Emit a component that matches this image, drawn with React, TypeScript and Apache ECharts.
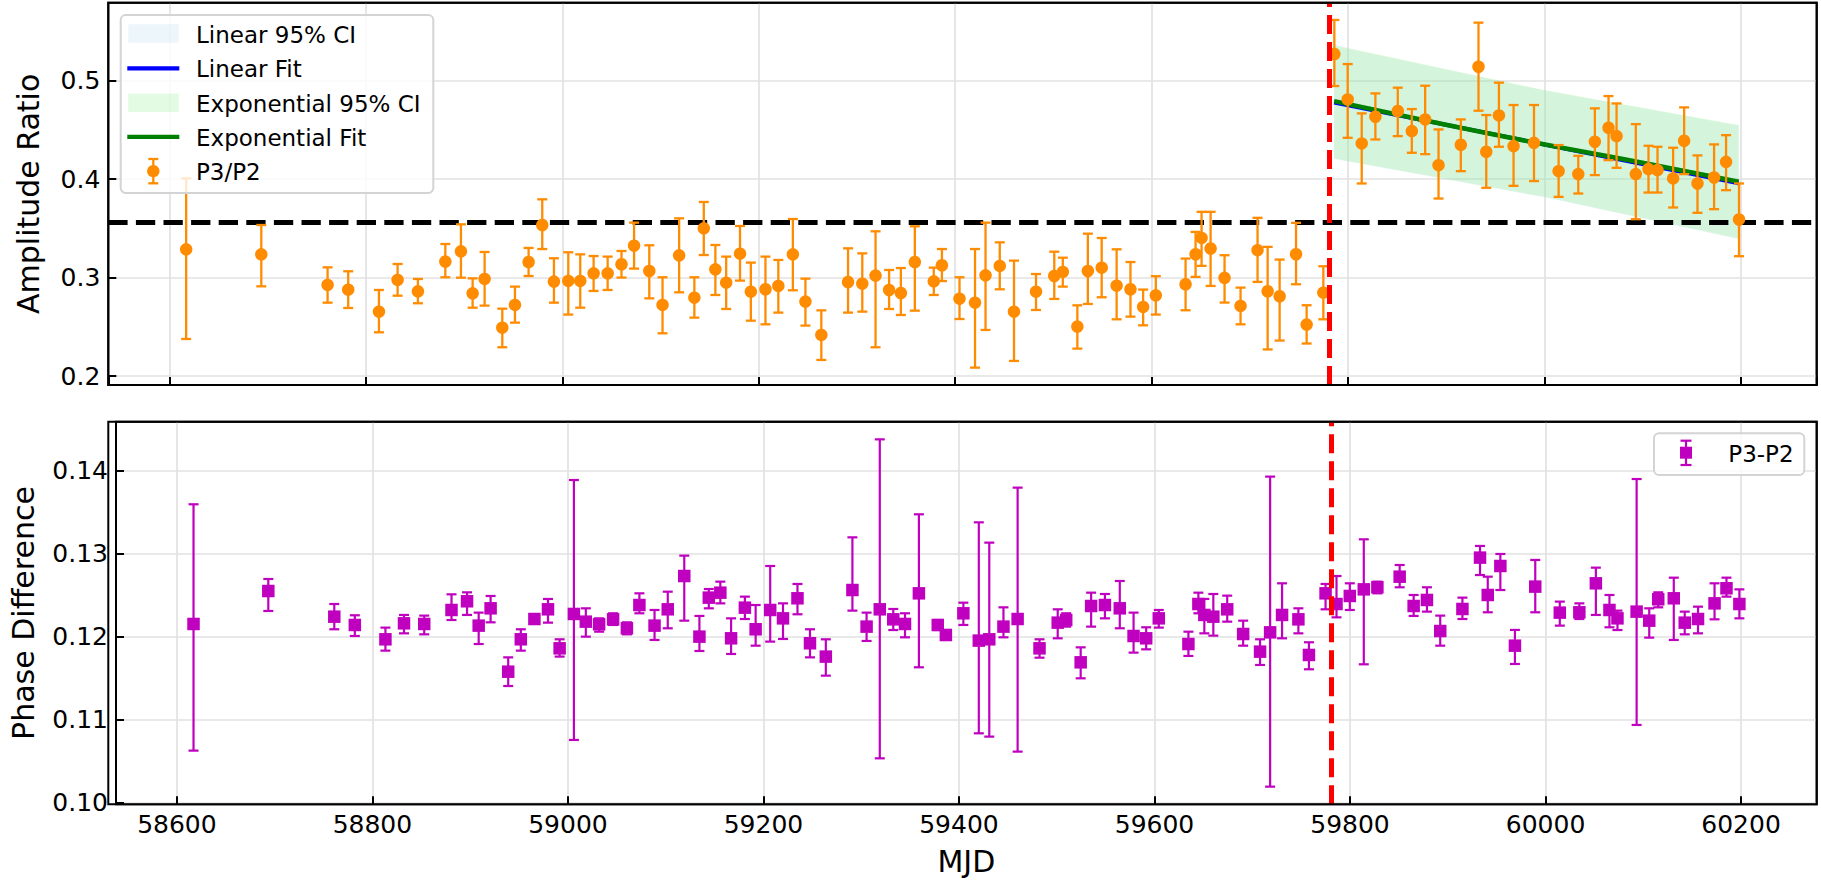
import React, { useEffect, useRef } from "react";
import * as echarts from "echarts";

// ---------- data ----------
const mjd = [
  58617, 58693.5, 58761, 58782, 58813.3, 58832.3, 58853, 58880.9, 58896.8, 58908.7,
  58920.9, 58938.9, 58951.8, 58965.7, 58979.6, 58991.5, 59006.1, 59018.3, 59031.9, 59046.2,
  59060.3, 59073.1, 59088.6, 59102.1, 59119, 59134.5, 59144.1, 59155.9, 59166.9, 59181,
  59192, 59206.9, 59220, 59234.8, 59247.6, 59263.8, 59291, 59305.5, 59319, 59332.8,
  59344.8, 59359, 59378.3, 59386.6, 59404.5, 59420.3, 59431, 59445.5, 59460, 59482.4,
  59501, 59509.7, 59524.5, 59535.2, 59549.3, 59564.5, 59578.6, 59591.5, 59604.4, 59634.7,
  59644.9, 59651, 59660.2, 59674.4, 59690.7, 59708, 59718.3, 59730.5, 59747.2, 59758,
  59775, 59786.2, 59799.8, 59814.1, 59828, 59850.8, 59865.1, 59878.7, 59892.3, 59915,
  59933, 59940.9, 59953.8, 59968.7, 59989.5, 60014.6, 60034.6, 60051.5, 60065.4, 60073.6,
  60093.2, 60106.1, 60115.3, 60131.2, 60142.4, 60156, 60172.9, 60185.1, 60198.3,
];

const ampRatio = [
  0.3287, 0.3236, 0.2925, 0.2877, 0.2654, 0.2976, 0.286, 0.3162, 0.3267, 0.284,
  0.2986, 0.2491, 0.2722, 0.3158, 0.3534, 0.2959, 0.2966, 0.2966, 0.3043, 0.3043,
  0.3135, 0.3324, 0.3067, 0.2722, 0.3226, 0.2796, 0.35, 0.3084, 0.2948, 0.3243,
  0.2857, 0.2881, 0.2915, 0.3236, 0.2756, 0.2417, 0.2955, 0.2938, 0.302, 0.2874,
  0.2843, 0.3158, 0.2962, 0.3125, 0.2786, 0.2745, 0.3023, 0.3118, 0.2654, 0.2857,
  0.3016, 0.3057, 0.2502, 0.3067, 0.3101, 0.2918, 0.2881, 0.2702, 0.282, 0.2932,
  0.3237, 0.3403, 0.3295, 0.2997, 0.2712, 0.3278, 0.2861, 0.281, 0.3237, 0.2522,
  0.2847, 0.5271, 0.481, 0.4363, 0.4634, 0.4692, 0.4488, 0.4607, 0.4142, 0.4349,
  0.5142, 0.4278, 0.4647, 0.4336, 0.4369, 0.4081, 0.4051, 0.438, 0.4522, 0.4437,
  0.4051, 0.4102, 0.4092, 0.4007, 0.439, 0.3956, 0.4017, 0.4176, 0.359,
];
const ampLow = [
  0.2376, 0.2911, 0.2745, 0.2691, 0.2444, 0.2816, 0.2739, 0.3003, 0.2999, 0.2694,
  0.2715, 0.2292, 0.2542, 0.3016, 0.329, 0.2745, 0.2624, 0.2694, 0.2864, 0.2874,
  0.3, 0.3091, 0.2789, 0.2434, 0.285, 0.2593, 0.3229, 0.2823, 0.2681, 0.2969,
  0.2562, 0.2525, 0.2644, 0.2871, 0.2512, 0.2163, 0.2644, 0.2654, 0.2292, 0.2681,
  0.262, 0.2664, 0.2823, 0.2965, 0.2579, 0.2085, 0.2468, 0.2881, 0.2153, 0.2671,
  0.2783, 0.2908, 0.2278, 0.2732, 0.28, 0.2576, 0.2603, 0.2515, 0.2624, 0.2668,
  0.3007, 0.3119, 0.2915, 0.2746, 0.2525, 0.2956, 0.227, 0.236, 0.2932, 0.233,
  0.2576, 0.4946, 0.442, 0.3956, 0.4403, 0.4437, 0.4268, 0.4254, 0.3803, 0.4081,
  0.4695, 0.3912, 0.4329, 0.3932, 0.398, 0.382, 0.3854, 0.4041, 0.4193, 0.4115,
  0.3593, 0.3864, 0.3864, 0.3712, 0.4051, 0.3658, 0.3695, 0.3888, 0.3217,
];
const ampHigh = [
  0.4008, 0.3534, 0.3104, 0.3064, 0.2874, 0.3138, 0.2986, 0.3341, 0.3541, 0.2992,
  0.326, 0.2684, 0.2908, 0.3301, 0.3795, 0.3196, 0.3257, 0.3236, 0.3219, 0.3213,
  0.327, 0.3558, 0.3328, 0.3003, 0.3602, 0.3003, 0.3768, 0.3331, 0.3213, 0.3524,
  0.3152, 0.3213, 0.3179, 0.3595, 0.2989, 0.2667, 0.3297, 0.3246, 0.347, 0.3077,
  0.3097, 0.3521, 0.3101, 0.329, 0.3003, 0.329, 0.3558, 0.3358, 0.3172, 0.3036,
  0.3263, 0.3202, 0.2718, 0.3446, 0.3402, 0.3287, 0.3158, 0.2878, 0.3014, 0.3193,
  0.3464, 0.3668, 0.3668, 0.3227, 0.2898, 0.3607, 0.3312, 0.3183, 0.3556, 0.2719,
  0.3115, 0.5617, 0.5169, 0.4668, 0.4871, 0.4929, 0.4712, 0.4949, 0.4505, 0.4607,
  0.559, 0.4651, 0.498, 0.4753, 0.4753, 0.4346, 0.4237, 0.4719, 0.4844, 0.4769,
  0.4559, 0.4339, 0.4329, 0.4319, 0.4729, 0.4241, 0.4353, 0.4447, 0.3956,
];

const phaseDiff = [
  0.12153, 0.12551, 0.12241, 0.12141, 0.11968, 0.12161, 0.12153, 0.12322, 0.12427, 0.12133,
  0.12342, 0.11577, 0.11968, 0.12213, 0.1233, 0.11859, 0.12274, 0.12181, 0.12149, 0.12209,
  0.12101, 0.12382, 0.12133, 0.1233, 0.12732, 0.12, 0.12471, 0.12531, 0.1198, 0.1235,
  0.12089, 0.12322, 0.12221, 0.12463, 0.1192, 0.11759, 0.12563, 0.12121, 0.1233, 0.12209,
  0.12153, 0.12523, 0.12141, 0.1202, 0.12282, 0.11952, 0.11968, 0.12121, 0.12213, 0.11859,
  0.12169, 0.12201, 0.1169, 0.1237, 0.12382, 0.12342, 0.12008, 0.1198, 0.12221, 0.11911,
  0.12394, 0.12262, 0.12241, 0.1233, 0.12032, 0.11819, 0.12052, 0.12262, 0.12209, 0.11779,
  0.12523, 0.12394, 0.12491, 0.12571, 0.12596, 0.12724, 0.1237, 0.12443, 0.12068, 0.12334,
  0.12954, 0.12503, 0.12853, 0.11891, 0.12604, 0.1229, 0.12294, 0.12644, 0.12322, 0.12221,
  0.12302, 0.12193, 0.12451, 0.12463, 0.12169, 0.12213, 0.12402, 0.12584, 0.12394,
];
const phaseLow = [
  0.10624, 0.1231, 0.12089, 0.12008, 0.11831, 0.1204, 0.12028, 0.12201, 0.12262, 0.11911,
  0.12173, 0.11404, 0.11831, 0.12161, 0.12169, 0.11759, 0.10753, 0.12, 0.1206, 0.12141,
  0.12028, 0.12282, 0.1196, 0.12101, 0.12193, 0.11827, 0.12342, 0.12402, 0.11791, 0.12213,
  0.11891, 0.1194, 0.11972, 0.1227, 0.1175, 0.11529, 0.12314, 0.11948, 0.10531, 0.1208,
  0.11992, 0.1163, 0.1208, 0.1196, 0.12141, 0.10833, 0.10793, 0.11992, 0.10612, 0.11746,
  0.1198, 0.12121, 0.11497, 0.12121, 0.12221, 0.12101, 0.11807, 0.11847, 0.12109, 0.11767,
  0.12282, 0.1204, 0.12012, 0.12181, 0.11891, 0.11658, 0.10189, 0.1198, 0.1204, 0.11606,
  0.1233, 0.12233, 0.12322, 0.11666, 0.12523, 0.12596, 0.1225, 0.12302, 0.11891, 0.12213,
  0.12744, 0.12294, 0.12563, 0.1167, 0.12294, 0.12133, 0.12213, 0.12262, 0.12113, 0.1208,
  0.10934, 0.11988, 0.12354, 0.1196, 0.12028, 0.1204, 0.12209, 0.12483, 0.12221,
];
const phaseHigh = [
  0.13598, 0.12696, 0.12394, 0.12258, 0.12109, 0.12262, 0.12254, 0.12511, 0.12535, 0.1229,
  0.12491, 0.1175, 0.12089, 0.12262, 0.12455, 0.11968, 0.13891, 0.12342, 0.12221, 0.12282,
  0.12173, 0.12523, 0.12322, 0.12543, 0.12978, 0.1225, 0.12575, 0.12664, 0.12221, 0.12483,
  0.12382, 0.12853, 0.12402, 0.12636, 0.12089, 0.11968, 0.13199, 0.1229, 0.14382, 0.12334,
  0.12282, 0.13477, 0.12201, 0.1208, 0.1241, 0.1338, 0.13135, 0.12354, 0.13799, 0.11968,
  0.1233, 0.12282, 0.11871, 0.12531, 0.12515, 0.12672, 0.1229, 0.12113, 0.12322, 0.1206,
  0.12531, 0.12455, 0.12515, 0.12495, 0.12193, 0.11968, 0.13932, 0.12644, 0.12342, 0.11932,
  0.12636, 0.12732, 0.12644, 0.13175, 0.12664, 0.12865, 0.12503, 0.12596, 0.12254, 0.12471,
  0.13095, 0.12724, 0.12998, 0.12081, 0.12926, 0.12423, 0.12402, 0.12833, 0.12503, 0.12314,
  0.13903, 0.12342, 0.12535, 0.12712, 0.12302, 0.12362, 0.12644, 0.12712, 0.12571,
];

// fits
const expFitX = [59786, 59880, 59990, 60100, 60198];
const expFitY = [0.4793, 0.4593, 0.4372, 0.4166, 0.3973];
const linFitX = [59786, 60198];
const linFitY = [0.4778, 0.3958];
const ciX = [59786, 60000, 60198];
const expCiUpper = [0.5363, 0.4905, 0.4549];
const expCiLower = [0.421, 0.382, 0.3397];
const linCiUpper = [0.5355, 0.49, 0.4542];
const linCiLower = [0.4205, 0.3815, 0.339];

const ampReference = 0.356;
const eventMJD = 59781;

// axis extents
const X_MIN = 58537.7;
const X_MAX = 60277.4;
const AMP_MIN = 0.19086;
const AMP_MAX = 0.57925;
const PH_MIN = 0.09976;
const PH_MAX = 0.14595;

const NAMES = {
  linCI: "Linear 95% CI",
  linFit: "Linear Fit",
  expCI: "Exponential 95% CI",
  expFit: "Exponential Fit",
  amp: "P3/P2",
  phase: "P3-P2",
};

const ORANGE = "#ff8c00";
const MAGENTA = "#bf00bf";
const FONT = "DejaVu Sans";

function makeErrorBar(color: string, capHalf: number, width: number) {
  return (_params: any, api: any) => {
    const x = api.value(0);
    const lo = api.coord([x, api.value(1)]);
    const hi = api.coord([x, api.value(2)]);
    const style = { stroke: color, lineWidth: width };
    return {
      type: "group",
      children: [
        { type: "line", shape: { x1: lo[0], y1: lo[1], x2: hi[0], y2: hi[1] }, style },
        { type: "line", shape: { x1: lo[0] - capHalf, y1: lo[1], x2: lo[0] + capHalf, y2: lo[1] }, style },
        { type: "line", shape: { x1: hi[0] - capHalf, y1: hi[1], x2: hi[0] + capHalf, y2: hi[1] }, style },
      ],
    };
  };
}

function makeBand(xs: number[], upper: number[], lower: number[], fill: string) {
  return (_params: any, api: any) => {
    const pts: number[][] = [];
    xs.forEach((x, i) => pts.push(api.coord([x, upper[i]])));
    for (let i = xs.length - 1; i >= 0; i--) pts.push(api.coord([xs[i], lower[i]]));
    return { type: "polygon", shape: { points: pts }, style: { fill } };
  };
}

function buildOption() {
  const gridBoxes = [
    { left: 108.3, top: 2.7, width: 1708.4, height: 382.3 },
    { left: 108.3, top: 421.7, width: 1708.4, height: 382.6 },
  ];
  const grids = gridBoxes.map((g) => ({
    ...g,
    show: true,
    borderColor: "#000",
    borderWidth: 2,
    backgroundColor: "transparent",
    containLabel: false,
  }));

  const tick = { show: true, inside: true, length: 8, lineStyle: { color: "#000", width: 2 } };
  const split = { show: true, showMinLine: false, showMaxLine: false, lineStyle: { color: "#e2e2e2", width: 1.7 } };
  const labelBase = {
    color: "#000",
    fontSize: 25,
    fontFamily: FONT,
    margin: 8,
    showMinLabel: false,
    showMaxLabel: false,
  };

  const xAxes = [0, 1].map((gi) => ({
    type: "value",
    gridIndex: gi,
    min: X_MIN,
    max: X_MAX,
    splitNumber: 8,
    minInterval: 200,
    maxInterval: 200,
    axisLine: { show: false },
    axisTick: tick,
    splitLine: split,
    axisLabel: gi === 0 ? { show: false } : { ...labelBase, formatter: (v: number) => String(Math.round(v)) },
    name: gi === 1 ? "MJD" : "",
    nameLocation: "middle",
    nameGap: 42,
    nameTextStyle: { color: "#000", fontSize: 30, fontFamily: FONT },
  }));

  const yAxes = [
    {
      type: "value",
      gridIndex: 0,
      min: AMP_MIN,
      max: AMP_MAX,
      splitNumber: 4,
      minInterval: 0.1,
      maxInterval: 0.1,
      axisLine: { show: false },
      axisTick: tick,
      splitLine: split,
      axisLabel: { ...labelBase, formatter: (v: number) => v.toFixed(1) },
      name: "Amplitude Ratio",
      nameLocation: "middle",
      nameRotate: 90,
      nameGap: 65,
      nameTextStyle: { color: "#000", fontSize: 30, fontFamily: FONT },
    },
    {
      type: "value",
      gridIndex: 1,
      min: PH_MIN,
      max: PH_MAX,
      splitNumber: 4,
      minInterval: 0.01,
      maxInterval: 0.01,
      axisLine: { show: false },
      axisTick: tick,
      splitLine: split,
      axisLabel: { ...labelBase, formatter: (v: number) => v.toFixed(2) },
      name: "Phase Difference",
      nameLocation: "middle",
      nameRotate: 90,
      nameGap: 78,
      nameTextStyle: { color: "#000", fontSize: 30, fontFamily: FONT },
    },
  ];

  const redLine = {
    silent: true,
    symbol: ["none", "none"],
    precision: 6,
    z: 5,
    label: { show: false },
    lineStyle: { color: "#ff0000", width: 5, type: [19, 8] },
    data: [{ xAxis: eventMJD }],
  };

  const series: any[] = [
    {
      name: NAMES.linCI,
      type: "custom",
      xAxisIndex: 0,
      yAxisIndex: 0,
      z: 1,
      silent: true,
      renderItem: makeBand(ciX, linCiUpper, linCiLower, "rgba(173,216,230,0.2)"),
      data: [[ciX[0], linCiUpper[0]]],
      encode: { x: 0, y: 1 },
      markLine: {
        silent: true,
        symbol: ["none", "none"],
        precision: 6,
        z: 3,
        label: { show: false },
        lineStyle: { color: "#000", width: 5.2, type: [19.3, 8.3] },
        data: [{ yAxis: ampReference }],
      },
    },
    {
      name: NAMES.expCI,
      type: "custom",
      xAxisIndex: 0,
      yAxisIndex: 0,
      z: 1,
      silent: true,
      renderItem: makeBand(ciX, expCiUpper, expCiLower, "rgba(144,238,144,0.28)"),
      data: [[ciX[0], expCiUpper[0]]],
      encode: { x: 0, y: 1 },
    },
    {
      name: NAMES.linFit,
      type: "line",
      xAxisIndex: 0,
      yAxisIndex: 0,
      z: 2,
      silent: true,
      showSymbol: false,
      lineStyle: { color: "#0000ff", width: 4 },
      data: linFitX.map((x, i) => [x, linFitY[i]]),
    },
    {
      name: NAMES.expFit,
      type: "line",
      xAxisIndex: 0,
      yAxisIndex: 0,
      z: 2,
      silent: true,
      showSymbol: false,
      smooth: true,
      lineStyle: { color: "#008000", width: 4.5 },
      data: expFitX.map((x, i) => [x, expFitY[i]]),
    },
    {
      name: NAMES.amp,
      type: "custom",
      xAxisIndex: 0,
      yAxisIndex: 0,
      z: 4,
      silent: true,
      renderItem: makeErrorBar(ORANGE, 5, 2.3),
      data: mjd.map((x, i) => [x, ampLow[i], ampHigh[i]]),
      encode: { x: 0, y: [1, 2] },
    },
    {
      name: NAMES.amp,
      type: "scatter",
      xAxisIndex: 0,
      yAxisIndex: 0,
      z: 4,
      silent: true,
      symbol: "circle",
      symbolSize: 12.5,
      itemStyle: { color: ORANGE, opacity: 1 },
      data: mjd.map((x, i) => [x, ampRatio[i]]),
      markLine: redLine,
    },
    {
      name: NAMES.phase,
      type: "custom",
      xAxisIndex: 1,
      yAxisIndex: 1,
      z: 4,
      silent: true,
      renderItem: makeErrorBar(MAGENTA, 5, 2.2),
      data: mjd.map((x, i) => [x, phaseLow[i], phaseHigh[i]]),
      encode: { x: 0, y: [1, 2] },
    },
    {
      name: NAMES.phase,
      type: "scatter",
      xAxisIndex: 1,
      yAxisIndex: 1,
      z: 4,
      silent: true,
      symbol: "rect",
      symbolSize: 12.5,
      itemStyle: { color: MAGENTA, opacity: 1 },
      data: mjd.map((x, i) => [x, phaseDiff[i]]),
      markLine: redLine,
    },
  ];

  // legends (matplotlib-style boxes)
  const txt = (x: number, y: number, text: string) => ({
    type: "text",
    x,
    y,
    z: 101,
    style: { text, fill: "#000", fontSize: 23, fontFamily: FONT, align: "left", verticalAlign: "middle" },
  });
  const rows = [33.5, 68.3, 102.7, 136.9, 171.2];
  const graphic: any[] = [
    // panel frames (spines) drawn on top of the grid lines
    ...gridBoxes.map((g) => ({
      type: "rect",
      z: 90,
      silent: true,
      shape: { x: g.left, y: g.top, width: g.width, height: g.height },
      style: { fill: "none", stroke: "#000", lineWidth: 2 },
    })),
    {
      type: "rect",
      z: 100,
      shape: { x: 120.7, y: 15, width: 312.6, height: 178, r: 5 },
      style: { fill: "rgba(255,255,255,0.8)", stroke: "#d4d4d4", lineWidth: 2 },
    },
    { type: "rect", z: 101, shape: { x: 128.3, y: rows[0] - 9.2, width: 50.5, height: 18.4 }, style: { fill: "rgba(173,216,230,0.22)" } },
    { type: "line", z: 101, shape: { x1: 127.3, y1: rows[1], x2: 179.3, y2: rows[1] }, style: { stroke: "#0000ff", lineWidth: 4.3 } },
    { type: "rect", z: 101, shape: { x: 128.3, y: rows[2] - 9.2, width: 50.5, height: 18.4 }, style: { fill: "rgba(144,238,144,0.25)" } },
    { type: "line", z: 101, shape: { x1: 127.3, y1: rows[3], x2: 179.3, y2: rows[3] }, style: { stroke: "#008000", lineWidth: 4.3 } },
    { type: "line", z: 101, shape: { x1: 153.3, y1: 159, x2: 153.3, y2: 183.3 }, style: { stroke: ORANGE, lineWidth: 2.3 } },
    { type: "line", z: 101, shape: { x1: 148.3, y1: 159, x2: 158.3, y2: 159 }, style: { stroke: ORANGE, lineWidth: 2.3 } },
    { type: "line", z: 101, shape: { x1: 148.3, y1: 183.3, x2: 158.3, y2: 183.3 }, style: { stroke: ORANGE, lineWidth: 2.3 } },
    { type: "circle", z: 102, shape: { cx: 153.3, cy: rows[4], r: 6.2 }, style: { fill: ORANGE } },
    txt(196, rows[0] + 1, NAMES.linCI),
    txt(196, rows[1] + 1, NAMES.linFit),
    txt(196, rows[2] + 1, NAMES.expCI),
    txt(196, rows[3] + 1, NAMES.expFit),
    txt(196, rows[4] + 1, NAMES.amp),
    // bottom legend
    {
      type: "rect",
      z: 100,
      shape: { x: 1654, y: 433.3, width: 150.3, height: 41.7, r: 5 },
      style: { fill: "rgba(255,255,255,0.8)", stroke: "#d4d4d4", lineWidth: 2 },
    },
    { type: "line", z: 101, shape: { x1: 1686, y1: 440.7, x2: 1686, y2: 465 }, style: { stroke: MAGENTA, lineWidth: 2.2 } },
    { type: "line", z: 101, shape: { x1: 1680.5, y1: 440.7, x2: 1691.5, y2: 440.7 }, style: { stroke: MAGENTA, lineWidth: 2.2 } },
    { type: "line", z: 101, shape: { x1: 1680.5, y1: 465, x2: 1691.5, y2: 465 }, style: { stroke: MAGENTA, lineWidth: 2.2 } },
    { type: "rect", z: 102, shape: { x: 1686 - 6, y: 452.7 - 6, width: 12, height: 12 }, style: { fill: MAGENTA } },
    txt(1728.3, 453.7, NAMES.phase),
  ];

  return {
    animation: false,
    backgroundColor: "#ffffff",
    textStyle: { fontFamily: FONT },
    grid: grids,
    xAxis: xAxes,
    yAxis: yAxes,
    series,
    graphic,
  };
}

export default function App() {
  const ref = useRef<HTMLDivElement>(null);
  useEffect(() => {
    if (!ref.current) return;
    const chart = echarts.init(ref.current, null, { renderer: "svg" });
    chart.setOption(buildOption() as any);
    return () => chart.dispose();
  }, []);
  return (
    <div
      ref={ref}
      style={{ position: "fixed", left: 0, top: 0, width: 1821, height: 883, background: "#fff" }}
    />
  );
}
